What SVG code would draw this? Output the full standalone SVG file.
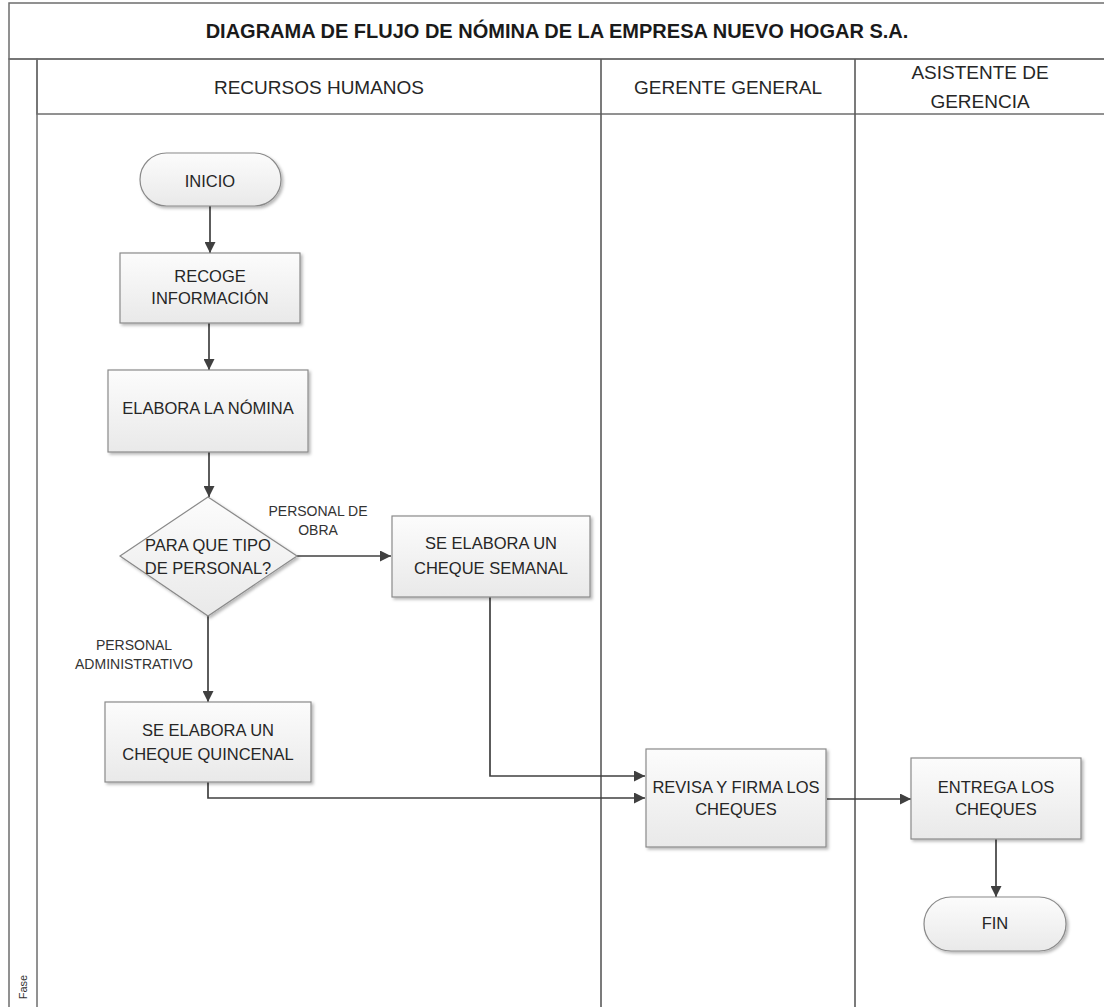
<svg xmlns="http://www.w3.org/2000/svg" width="1104" height="1007" viewBox="0 0 1104 1007">
  <defs>
    <linearGradient id="band" x1="0" y1="0" x2="0" y2="1">
      <stop offset="0" stop-color="#ffffff"/>
      <stop offset="1" stop-color="#ececec"/>
    </linearGradient>
    <linearGradient id="faseBand" x1="0" y1="0" x2="1" y2="0">
      <stop offset="0" stop-color="#e6e6e6"/>
      <stop offset="1" stop-color="#fbfbfb"/>
    </linearGradient>
    <linearGradient id="shapeFill" x1="0" y1="0" x2="0" y2="1">
      <stop offset="0" stop-color="#fcfcfc"/>
      <stop offset="1" stop-color="#e9e9e9"/>
    </linearGradient>
    <filter id="shadow" x="-10%" y="-10%" width="125%" height="130%">
      <feDropShadow dx="2" dy="2" stdDeviation="1.5" flood-color="#000" flood-opacity="0.28"/>
    </filter>
    <marker id="arrow" viewBox="0 0 10 10" refX="10" refY="5" markerWidth="11" markerHeight="11" markerUnits="userSpaceOnUse" orient="auto">
      <path d="M0,0 L10,5 L0,10 z" fill="#404040"/>
    </marker>
  </defs>
  <style>
    .frame { fill: none; stroke: #6e6e6e; stroke-width: 1.5; }
    .lane { stroke: #5a5a5a; stroke-width: 1.6; }
    .title { font-family: "Liberation Sans", Arial, sans-serif; font-size: 20px; font-weight: bold; fill: #1a1a1a; text-anchor: middle; }
    .head { font-family: "Liberation Sans", Arial, sans-serif; font-size: 19px; fill: #262626; text-anchor: middle; }
    .shape { fill: url(#shapeFill); stroke: #8a8a8a; stroke-width: 1.2; filter: url(#shadow); }
    .txt { font-family: "Liberation Sans", Arial, sans-serif; font-size: 16.5px; fill: #262626; text-anchor: middle; }
    .lbl { font-family: "Liberation Sans", Arial, sans-serif; font-size: 14px; fill: #333333; text-anchor: middle; }
    .conn { fill: none; stroke: #404040; stroke-width: 1.7; marker-end: url(#arrow); }
  </style>

  <rect width="1104" height="1007" fill="#ffffff"/>

  <!-- pool: title band, lane headers, phase column -->
  <g id="pool">
    <rect x="9" y="3" width="1110" height="56" fill="url(#band)" class="frame"/>
    <rect x="9" y="59" width="28" height="960" fill="url(#faseBand)" class="frame"/>
    <rect x="37" y="59" width="1080" height="55" fill="url(#band)" class="frame"/>
    <line x1="601" y1="59" x2="601" y2="1007" class="lane"/>
    <line x1="855" y1="59" x2="855" y2="1007" class="lane"/>
    <text class="title" x="557" y="38">DIAGRAMA DE FLUJO DE NÓMINA DE LA EMPRESA NUEVO HOGAR S.A.</text>
    <text class="head" x="319" y="94">RECURSOS HUMANOS</text>
    <text class="head" x="728" y="94">GERENTE GENERAL</text>
    <text class="head" x="980" y="79">ASISTENTE DE</text>
    <text class="head" x="980" y="108">GERENCIA</text>
    <text x="27" y="987" font-family="'Liberation Sans', Arial, sans-serif" font-size="11px" fill="#333" text-anchor="middle" transform="rotate(-90 27 987)">Fase</text>
  </g>

  <!-- connectors -->
  <g id="connectors">
    <line x1="210" y1="206" x2="210" y2="253" class="conn"/>
    <line x1="209" y1="323" x2="209" y2="370" class="conn"/>
    <line x1="209" y1="452" x2="209" y2="497" class="conn"/>
    <line x1="297" y1="556" x2="391" y2="556" class="conn"/>
    <line x1="208" y1="616" x2="208" y2="702" class="conn"/>
    <polyline points="490,597 490,776 645,776" class="conn"/>
    <polyline points="208,782 208,798 645,798" class="conn"/>
    <line x1="827" y1="799" x2="911" y2="799" class="conn"/>
    <line x1="996" y1="839" x2="996" y2="897" class="conn"/>
    <text class="lbl" x="318" y="516">PERSONAL DE</text>
    <text class="lbl" x="318" y="535">OBRA</text>
    <text class="lbl" x="134" y="650">PERSONAL</text>
    <text class="lbl" x="134" y="669">ADMINISTRATIVO</text>
  </g>

  <g id="inicio">
    <rect x="140" y="153" width="141" height="53" rx="26.5" ry="26.5" class="shape"/>
    <text class="txt" x="210" y="187">INICIO</text>
  </g>

  <g id="recoge">
    <rect x="120" y="253" width="180" height="70" class="shape"/>
    <text class="txt" x="210" y="282">RECOGE</text>
    <text class="txt" x="210" y="304">INFORMACIÓN</text>
  </g>

  <g id="elabora">
    <rect x="108" y="370" width="200" height="82" class="shape"/>
    <text class="txt" x="208" y="414">ELABORA LA NÓMINA</text>
  </g>

  <g id="decision">
    <polygon points="208,497 297,556 208,616 120,556" class="shape"/>
    <text class="txt" x="208" y="551">PARA QUE TIPO</text>
    <text class="txt" x="208" y="574">DE PERSONAL?</text>
  </g>

  <g id="semanal">
    <rect x="392" y="516" width="198" height="81" class="shape"/>
    <text class="txt" x="491" y="549">SE ELABORA UN</text>
    <text class="txt" x="491" y="574">CHEQUE SEMANAL</text>
  </g>

  <g id="quincenal">
    <rect x="105" y="702" width="206" height="80" class="shape"/>
    <text class="txt" x="208" y="736">SE ELABORA UN</text>
    <text class="txt" x="208" y="760">CHEQUE QUINCENAL</text>
  </g>

  <g id="revisa">
    <rect x="646" y="749" width="180" height="98" class="shape"/>
    <text class="txt" x="736" y="793">REVISA Y FIRMA LOS</text>
    <text class="txt" x="736" y="815">CHEQUES</text>
  </g>

  <g id="entrega">
    <rect x="911" y="758" width="170" height="81" class="shape"/>
    <text class="txt" x="996" y="793">ENTREGA LOS</text>
    <text class="txt" x="996" y="815">CHEQUES</text>
  </g>

  <g id="fin">
    <rect x="924" y="897" width="142" height="54" rx="27" ry="27" class="shape"/>
    <text class="txt" x="995" y="929">FIN</text>
  </g>
</svg>
